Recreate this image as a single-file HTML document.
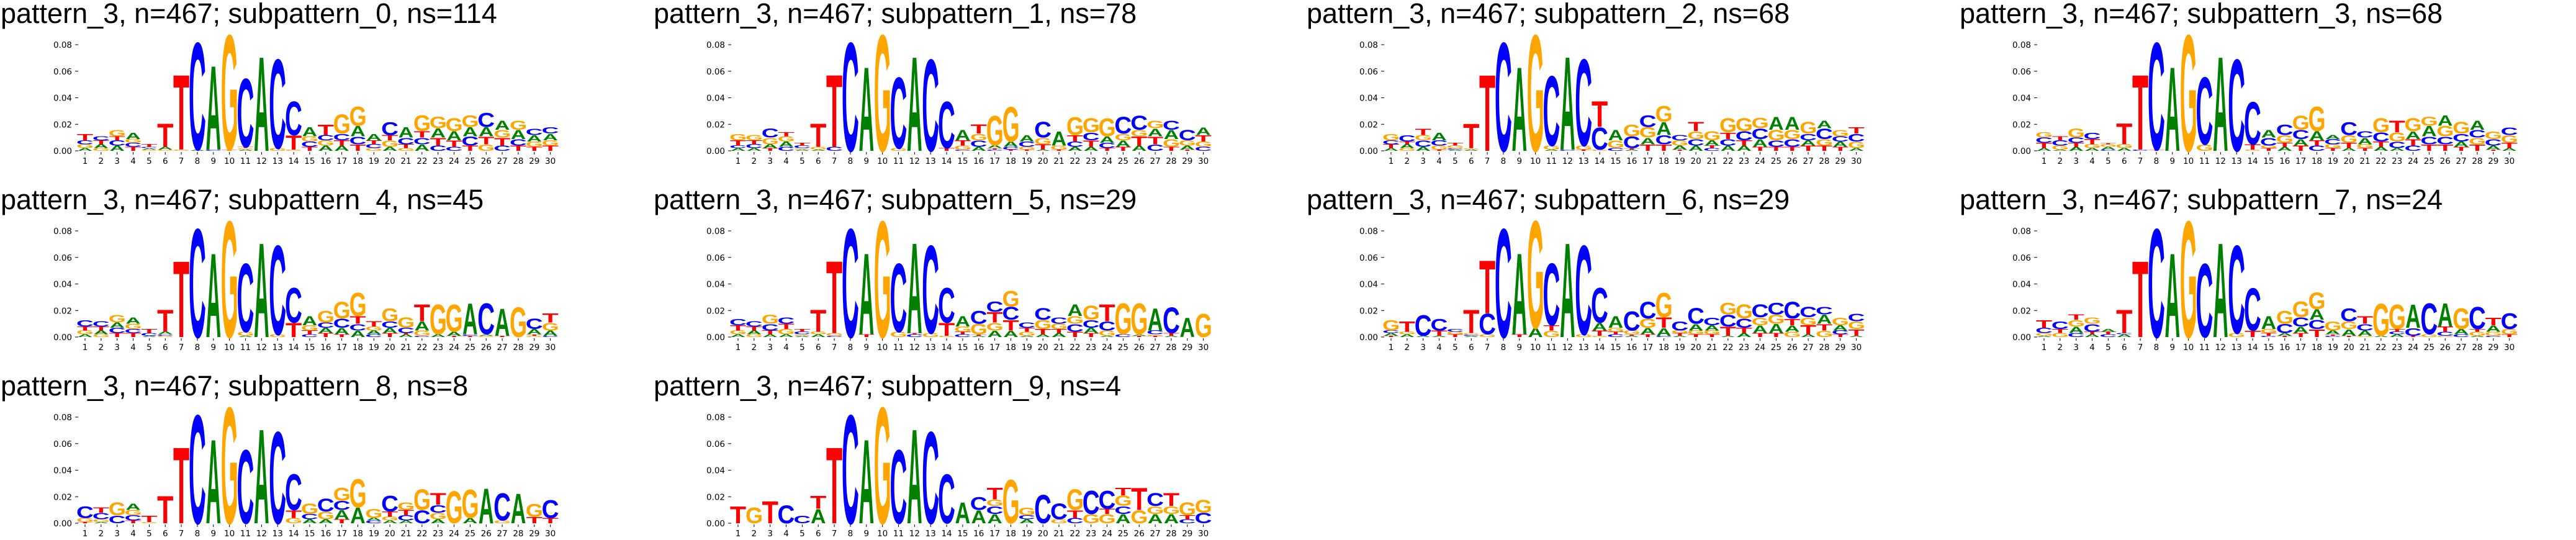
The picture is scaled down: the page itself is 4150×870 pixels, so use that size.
<!DOCTYPE html>
<html><head><meta charset="utf-8"><style>
html,body{margin:0;padding:0;background:#fff;}
svg{display:block;}
</style></head><body>
<svg id="fig" xmlns="http://www.w3.org/2000/svg" width="4150" height="870" viewBox="0 0 4150 870"></svg>
<script>
// Subpattern titles and counts
const subpatternIds = [0,1,2,3,4,5,6,7,8,9];
const subpatternNs = [114,78,68,68,45,29,29,24,8,4];
const yTickValues = [0.00,0.02,0.04,0.06,0.08];
const yTickLabels = ["0.00","0.02","0.04","0.06","0.08"];
const positions = [1,2,3,4,5,6,7,8,9,10,11,12,13,14,15,16,17,18,19,20,21,22,23,24,25,26,27,28,29,30];
// Letter stacks per position (bottom -> top), heights in units of 0.001
const logo0 = "A2 G3 C3 T5|G2 A3 T3 C3|A4 C4 T3 G5|T3 C3 G3 A5|G1 A1 C1 T2|G1 A2 T18|G1 T58|A1 C83|C1 A65|T1 G89|A1 G1 T1 C53|A73|G2 C69|G1 T11 C26|T3 C4 G4 A7|A4 G4 C4 T8|A4 T4 C5 G15|T5 C6 A8 G15|G2 C3 T3 A5|A3 G5 T4 C10|G2 T3 C5 A8|A5 C5 T5 G12|C4 T6 A7 G9|C3 T5 A7 G10|T4 C7 A7 G9|G5 T6 A7 C11|C4 T6 G6 A7|T4 C5 A7 G7|T3 G4 A5 C5|T4 G4 A5 C5";
const logo1 = "A2 C2 T4 G5|A2 C3 T3 G4|T2 A3 G5 C7|C3 A4 G4 T3|A1 G1 C2 T2|A1 G2 T18|C3 T56|C84|A65|G90|G2 C55|A73|C71|T2 C36|C1 G3 T4 A8|A3 C5 G5 T7|C1 T1 A2 G23|T1 C2 A4 G27|T1 G2 C4 A5|A1 T4 G5 C12|T1 G3 A11|A3 C4 T5 G14|A3 T5 C6 G11|T2 C4 A5 G14|T3 A5 G5 C13|A4 T7 G5 C11|C5 T6 A6 G6|T3 G6 A7 C7|T1 A3 G4 C8|C3 G4 T5 A6";
const logo2 = "A2 T3 C3 G5|G2 A3 T2 C5|A3 C5 G4 T5|T1 G3 C4 A6|A1 C1 G2 T2|A1 G1 T19|T59|C84|A65|G90|A1 G3 C54|C1 A72|T1 G3 C67|G1 C17 T20|C2 G6 A8|A1 T1 C9 G9|T5 A5 G8 C9|T5 C7 A10 G12|T1 A3 G4 C4|A4 C5 G6 T7|C2 T2 A4 G7|A4 C5 T5 G11|A4 T4 C7 G10|T3 A6 C8 G8|T3 C5 G8 A10|T3 C6 G7 A10|T4 A4 C5 G9|T4 G5 C8 A6|T3 A4 C4 G5|A2 G5 C6 T5";
const logo3 = "A2 T4 C4 G4|A1 G3 C4 T3|A3 T3 C4 G7|A2 G3 T4 C5|C1 A2 G2 T1|A2 G3 T16|C1 T58|T1 C83|A65|G90|G5 C52|A73|C71|G1 T4 C33|T2 G2 C6 A6|A3 T3 G6 C8|T4 A5 C7 G11|C4 T4 A7 G19|T2 G3 C4 A3|A2 T4 G6 C10|T2 G3 A5 C5|A3 T4 C7 G11|A2 C5 G7 T9|C4 T5 A6 G10|T5 C6 A8 G7|T5 C6 G8 A8|T3 A4 C6 G9|T5 G5 C6 A7|T1 A3 C5 G6|A2 T4 G6 C6";
const logo4 = "A2 G3 T3 C5|G2 A3 T3 C4|T3 C4 A4 G6|T3 C3 G4 A5|A1 C2 T3|G1 C1 A2 T17|T59|C84|A65|G90|A1 G3 C53|A73|G2 C69|T11 C27|C2 T3 G4 A7|T3 A4 C4 G9|T2 A5 C7 G13|A5 C5 T6 G18|C2 A3 G3 T4|T3 A4 C5 G10|A2 T1 C4 G8|C1 G4 A7 T13|A2 G23|T1 A3 G21|T1 C1 A24|G1 A1 C24|T1 A21|G23|G1 T1 A4 C8|C1 A4 G6 T7";
const logo5 = "A2 G3 T4 C5|G2 A3 T3 C4|A2 T3 C5 G7|A2 G4 T4 C5|A1 G1 C2 T2|A2 G2 T17|C1 G2 T56|C84|T2 A63|G90|G4 C53|C2 T1 A70|G3 C68|G1 T10 C27|C2 T2 G4 A8|A1 T1 G8 C10|A5 G6 T8 C8|A5 T8 C10 G12|A1 G3 T3 C4|A2 T4 G7 C9|A3 T3 G4 C5|T4 C6 G6 A9|T3 A4 C6 G11|A1 G4 C7 T13|C2 G24|T1 A1 G24|T1 G1 C3 A17|A1 T2 C20|A15|G18";
const logo6 = "T1 A2 C2 G8|A2 G2 T8|A1 C16|A1 T4 C9|T2 G2 C2|A1 C1 G1 T18|G2 C16 T41|C84|T2 A63|A7 G83|G5 T4 C48|A73|G2 C69|G1 T4 A6 C27|C2 T2 G3 A9|A1 T1 G3 C15|T2 A5 G7 C13|C1 A6 T8 G19|A1 T2 G2 C7|T2 G3 A5 C12|T2 G3 A4 C6|A1 T7 C9 G9|A3 T4 C7 G11|T3 A6 G6 C10|T3 A7 G7 C9|G4 A5 T5 C13|A2 T7 G6 C8|G5 T5 A7 C6|T2 C3 A4 G6|A1 T5 G6 C6";
const logo7 = "A1 G2 C4 T6|G3 T3 C6|C3 A5 G5 T4|A2 T2 C6 G5|C2 T2 A2|A2 C1 T18|T59|C84|A65|G90|C57|A73|G3 C68|T5 C33|C1 T2 G3 A10|T1 A2 C7 G10|T3 A5 C7 G12|T6 C7 A8 G13|C1 T1 A3 G7|T1 A5 G6 C10|G1 A4 C5 T6|A1 G25|A2 C2 T2 G19|T1 C6 A18|G2 C24|G1 C3 T4 A18|C2 A4 G16|A1 G3 T2 C17|C1 G3 A5 T6|T2 G4 C12";
const logo8 = "T1 G3 C9|A1 G2 C5 T4|C6 G10|T2 C4 G4 A5|G1 T5|T21|T59|C84|A65|G90|C57|A73|C71|G4 T6 C28|A3 C4 G8|A3 G6 C10|T3 A7 C7 G10|A12 G22|C2 A2 G7|A2 G3 T4 C12|A2 C4 T4 G6|C10 G16|A3 G5 C6 T9|G25|A4 G22|A27|G2 C21|A23|T5 G10|T4 C14";
const logo9 = "T13|G12|T17|C14|C6|A11 T10|T59|C84|A65|G90|C57|A73|C71|C38|A16|A10 C10|A7 C6 G5 T9|G34|A3 C3 G6|C22|G3 C12|C4 T6 G16|G7 C18|G7 T4 C14|A7 C6 G8 T6|G10 T17|A7 G6 C10|A7 G6 T10|C3 T3 G10|C8 G10";
const logos = [logo0,logo1,logo2,logo3,logo4,logo5,logo6,logo7,logo8,logo9];

const NS = "http://www.w3.org/2000/svg";
const svg = document.getElementById("fig");
const COLORS = {A:"#008000",C:"#0000ff",G:"#ffa500",T:"#ff0000"};
// glyph horizontal bbox (em) in Liberation Sans Bold
const BBOX = {A:[0.0,0.722],C:[0.045,0.68],G:[0.045,0.725],T:[0.02,0.59]};
const CAP = 0.716;

function mk(tag, attrs, parent){
  const e = document.createElementNS(NS, tag);
  for (const k in attrs) e.setAttribute(k, attrs[k]);
  parent.appendChild(e);
  return e;
}

subpatternIds.forEach((sid, idx) => {
  const col = idx % 4, row = Math.floor(idx / 4);
  const ox = col * 1052, oy = row * 300;
  const xPos = p => ox + 137 + (p - 1) * 25.85;
  const yVal = v => oy + 243 - v * 2137.5;

  const g = document.createElementNS(NS, "g");
  
  
  svg.appendChild(g);

  const title = mk("text", {x: ox + 1, y: oy + 37, "font-family": "Liberation Sans, sans-serif", "font-size": 45, fill: "#000"}, g);
  
  
  title.textContent = "pattern_3, n=467; subpattern_" + sid + ", ns=" + subpatternNs[idx];

  // y axis
  yTickValues.forEach((v, i) => {
    const y = yVal(v);
    const tk = mk("line", {x1: ox + 121, x2: ox + 126, y1: y, y2: y, stroke: "#000", "stroke-width": 1}, g);
    
    
    const lb = mk("text", {x: ox + 116, y: y + 5, "text-anchor": "end", "font-family": "DejaVu Sans, sans-serif", "font-size": 13.5, fill: "#000"}, g);
    
    
    lb.textContent = yTickLabels[i];
  });
  // x axis
  positions.forEach(p => {
    const x = xPos(p);
    const tk = mk("line", {x1: x, x2: x, y1: oy + 245, y2: oy + 249, stroke: "#000", "stroke-width": 1}, g);
    
    
    const lb = mk("text", {x: x, y: oy + 264, "text-anchor": "middle", "font-family": "DejaVu Sans, sans-serif", "font-size": 13.5, fill: "#000"}, g);
    
    
    lb.textContent = String(p);
  });

  // letters
  const stacks = logos[idx].split("|");
  stacks.forEach((st, pi) => {
    const p = positions[pi];
    const cx = xPos(p);
    const w = 24.5;
    let base = 0;
    st.trim().split(/\s+/).forEach(tok => {
      const L = tok[0];
      const v = parseFloat(tok.slice(1)) / 1000;
      const y0 = yVal(base), y1 = yVal(base + v);
      const h = y0 - y1;
      base += v;
      if (h <= 0) return;
      const bb = BBOX[L];
      const sx = w / ((bb[1] - bb[0]) * 100);
      const sy = h / (CAP * 100);
      const tx = cx - w / 2 - bb[0] * 100 * sx;
      const t = mk("text", {x: 0, y: 0, "font-family": "Liberation Sans, sans-serif", "font-weight": "bold", "font-size": 100, fill: COLORS[L],
        transform: "translate(" + tx.toFixed(2) + "," + y0.toFixed(2) + ") scale(" + sx.toFixed(4) + "," + sy.toFixed(4) + ")"}, g);
      
      
      t.textContent = L;
    });
  });
});
</script>
</body></html>
